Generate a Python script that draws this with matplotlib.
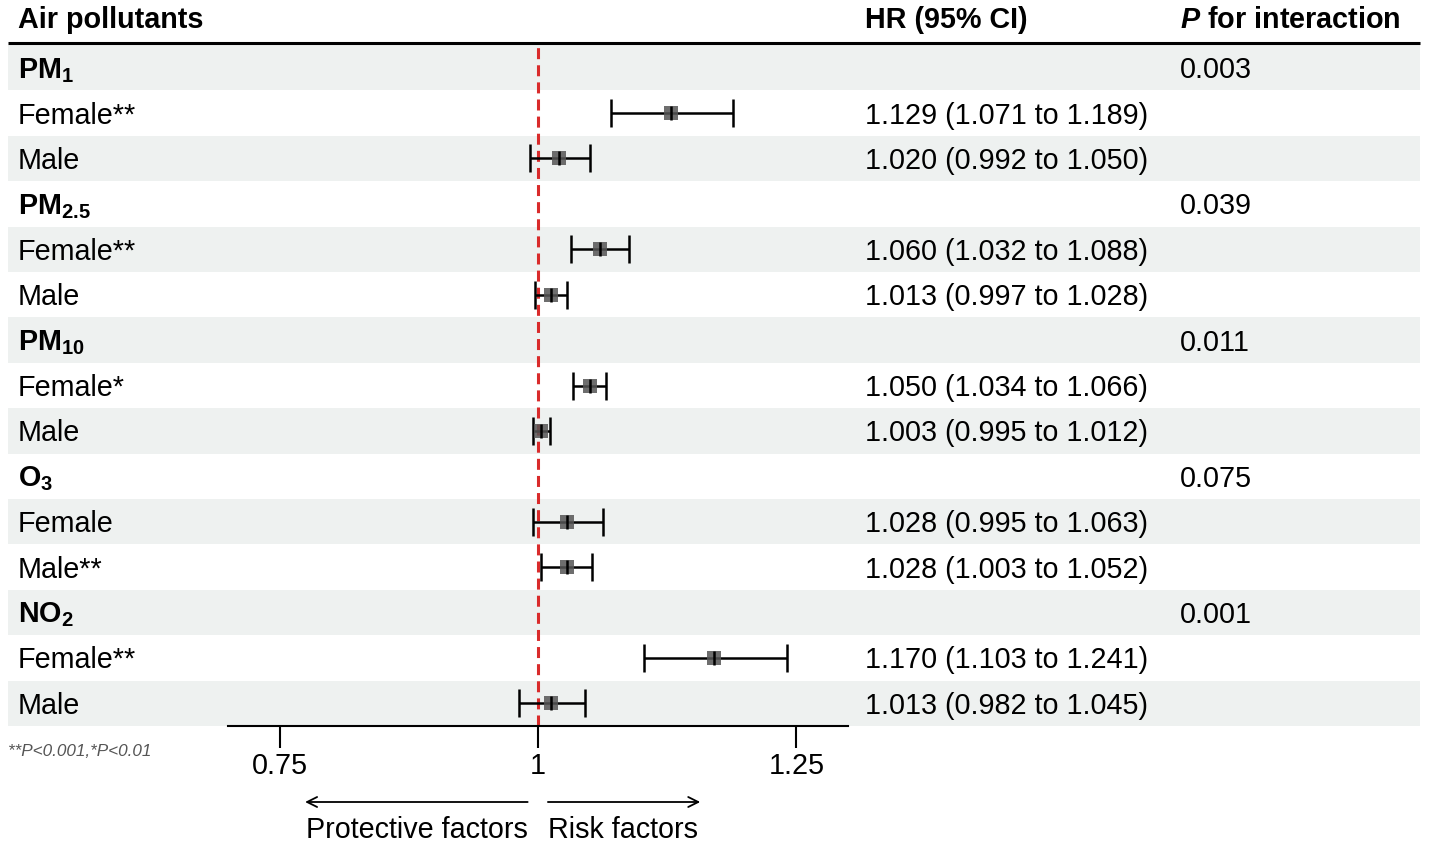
import matplotlib
matplotlib.use("Agg")
import matplotlib.pyplot as plt
import matplotlib.transforms as mtransforms
from matplotlib.patches import Rectangle
import numpy as np

plt.rcParams['font.family'] = ['Liberation Sans', 'DejaVu Sans']
plt.rcParams['mathtext.fontset'] = 'custom'
plt.rcParams['mathtext.rm'] = 'Liberation Sans'
plt.rcParams['mathtext.it'] = 'Liberation Sans:italic'
plt.rcParams['mathtext.bf'] = 'Liberation Sans:bold'
plt.rcParams['mathtext.bfit'] = 'Liberation Sans:italic:bold'

# data
pollutants = [r"$\mathbf{PM_{1}}$", r"$\mathbf{PM_{2.5}}$", r"$\mathbf{PM_{10}}$",
              r"$\mathbf{O_{3}}$", r"$\mathbf{NO_{2}}$"]
p_interaction = ["0.003", "0.039", "0.011", "0.075", "0.001"]
sub_labels = [["Female**", "Male"], ["Female**", "Male"], ["Female*", "Male"],
              ["Female", "Male**"], ["Female**", "Male"]]
hr = [[1.129, 1.020], [1.060, 1.013], [1.050, 1.003], [1.028, 1.028], [1.170, 1.013]]
lo = [[1.071, 0.992], [1.032, 0.997], [1.034, 0.995], [0.995, 1.003], [1.103, 0.982]]
hi = [[1.189, 1.050], [1.088, 1.028], [1.066, 1.012], [1.063, 1.052], [1.241, 1.045]]
xticks = [0.75, 1, 1.25]
xtick_labels = ["0.75", "1", "1.25"]

W, H = 1429, 846
FS = 20.7
TOP, ROW_H = 45, 45.4
DY = 2.5  # nudge text down so it sits centred like the original
n_rows = len(pollutants) * 3

fig = plt.figure(figsize=(W / 100, H / 100), dpi=100)

# background / table layer in pixel coordinates
bg = fig.add_axes([0, 0, 1, 1])
bg.set_xlim(0, W)
bg.set_ylim(H, 0)
bg.axis('off')

for i in range(n_rows):
    if i % 2 == 0:
        bg.add_patch(Rectangle((8, TOP + i * ROW_H), 1412, ROW_H,
                               facecolor='#eef1f0', edgecolor='none', zorder=0))

def row_y(i):
    return TOP + (i + 0.5) * ROW_H + DY

bg.plot([8, 1420], [43, 43], color='black', lw=2.2, solid_capstyle='butt')
bg.text(18, 18 + DY, "Air pollutants", fontsize=FS, fontweight='bold', va='center')
bg.text(865, 18 + DY, "HR (95% CI)", fontsize=FS, fontweight='bold', va='center')
bg.text(1180, 18 + DY, r"$\mathbfit{P}$ for interaction", fontsize=FS, fontweight='bold', va='center')

ys, hrs, los, his = [], [], [], []
for g, name in enumerate(pollutants):
    r0 = g * 3
    bg.text(18, row_y(r0), name, fontsize=FS, va='center')
    bg.text(1180, row_y(r0), p_interaction[g], fontsize=FS, va='center')
    for k in range(2):
        r = r0 + 1 + k
        bg.text(18, row_y(r), sub_labels[g][k], fontsize=FS, va='center')
        bg.text(865, row_y(r), "%.3f (%.3f to %.3f)" % (hr[g][k], lo[g][k], hi[g][k]),
                fontsize=FS, va='center')
        ys.append(r)
        hrs.append(hr[g][k])
        los.append(lo[g][k])
        his.append(hi[g][k])

bg.text(8, 751, "**P<0.001,*P<0.01", fontsize=12.3, style='italic', color='#555555', va='center')

# forest panel
ax = fig.add_axes([228 / W, 1 - 726 / H, 620 / W, (726 - TOP) / H])
ax.set_facecolor('none')
ax.set_xlim(0.7, 1.3)
ax.set_ylim(n_rows - 0.5, -0.5)

hrs = np.array(hrs)
los = np.array(los)
his = np.array(his)
ax.axvline(1, color='#d92b2b', lw=2.2, ls=(0, (3.6, 2.0)), zorder=1)
ax.errorbar(hrs, ys, xerr=[hrs - los, his - hrs], fmt='none', ecolor='black',
            elinewidth=1.8, capsize=10, capthick=1.8, zorder=2)
ax.scatter(hrs, ys, marker='s', s=95, color='#555555', alpha=0.85, linewidths=0, zorder=3)
ax.scatter(hrs, ys, marker='|', s=90, color='black', linewidths=1.8, zorder=4)

for s in ['top', 'left', 'right']:
    ax.spines[s].set_visible(False)
ax.spines['bottom'].set_linewidth(1.5)
ax.set_yticks([])
ax.set_xticks(xticks)
ax.set_xticklabels(xtick_labels, fontsize=FS)
ax.tick_params(axis='x', length=16, width=1.5, pad=3)

# direction arrows under the axis
trans = mtransforms.blended_transform_factory(ax.transData, bg.transData)
ax.annotate("", xy=(0.7746, 802), xytext=(0.990, 802), xycoords=trans, textcoords=trans,
            arrowprops=dict(arrowstyle='->', lw=1.3, color='black', mutation_scale=18,
                            shrinkA=0, shrinkB=0), annotation_clip=False)
ax.annotate("", xy=(1.157, 802), xytext=(1.0096, 802), xycoords=trans, textcoords=trans,
            arrowprops=dict(arrowstyle='->', lw=1.3, color='black', mutation_scale=18,
                            shrinkA=0, shrinkB=0), annotation_clip=False)
ax.text(0.990, 828 + DY, "Protective factors", transform=trans, fontsize=FS, ha='right', va='center')
ax.text(1.0096, 828 + DY, "Risk factors", transform=trans, fontsize=FS, ha='left', va='center')

fig.savefig("out.png", dpi=100)
